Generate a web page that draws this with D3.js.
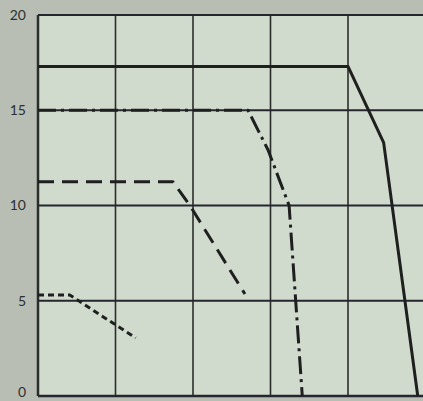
<!DOCTYPE html>
<html><head><meta charset="utf-8">
<script src="https://cdn.jsdelivr.net/npm/d3@7"></script>
<style>
html,body{margin:0;padding:0;background:#b9beb5;}
svg{display:block;}
</style></head>
<body>
<svg id="c" width="423" height="401"></svg>
<script>
const yTicks = [0, 5, 10, 15, 20];
const xGrid = [0, 1, 2, 3, 4, 5];
const solidX = [0, 4.0, 4.46, 4.9];
const solidY = [17.3, 17.3, 13.3, 0];
const dashDotX = [0, 2.71, 2.97, 3.24, 3.41];
const dashDotY = [15.0, 15.0, 12.9, 10.0, 0];
const dashedX = [0, 1.74, 1.96, 2.67];
const dashedY = [11.25, 11.25, 10.0, 5.35];
const dottedX = [0, 0.41, 1.26];
const dottedY = [5.3, 5.3, 3.05];

const svg = d3.select("#c");
const W = 423, H = 401;
const x = d3.scaleLinear().domain([0, 5]).range([38, 425.5]);
const y = d3.scaleLinear().domain([0, 20]).range([396, 15]);

svg.append("rect").attr("width", W).attr("height", H).attr("fill", "#b9beb5");
svg.append("rect").attr("x", x(0)).attr("y", y(20)).attr("width", x(5) - x(0)).attr("height", y(0) - y(20)).attr("fill", "#d0dbcd");

// vertical grid
svg.append("g").selectAll("line").data(xGrid).join("line")
  .attr("x1", d => x(d)).attr("x2", d => x(d))
  .attr("y1", y(20)).attr("y2", y(0))
  .attr("stroke", "#2b2d2b").attr("stroke-width", d => d === 0 ? 2.5 : 1.6);

// horizontal grid
svg.append("g").selectAll("line").data(yTicks).join("line")
  .attr("x1", x(0)).attr("x2", W)
  .attr("y1", d => y(d)).attr("y2", d => y(d))
  .attr("stroke", "#25262e").attr("stroke-width", d => d === 0 ? 2.5 : 2.2);

// axis labels via d3 axis
const ax = svg.append("g").attr("transform", `translate(${x(0)},0)`)
  .call(d3.axisLeft(y).tickValues(yTicks).tickSize(0).tickPadding(12).tickFormat(d3.format("d")));
ax.select(".domain").remove();
ax.selectAll("text").attr("font-family", "Lato, 'DejaVu Sans', sans-serif")
  .attr("font-size", 14).attr("fill", "#2c3032");
ax.selectAll(".tick").filter(d => d === 0).select("text").attr("dy", "0.05em");

const line = d3.line().x(d => x(d[0])).y(d => y(d[1]));
function draw(xs, ys, dash, w) {
  svg.append("path").datum(xs.map((v, i) => [v, ys[i]]))
    .attr("d", line).attr("fill", "none").attr("stroke", "#1e1f1f")
    .attr("stroke-width", w).attr("stroke-dasharray", dash)
    .attr("stroke-linejoin", "round");
}
draw(solidX, solidY, null, 3);
draw(dashDotX, dashDotY, "18 5 3 5", 3);
draw(dashedX, dashedY, "16 8", 3);
draw(dottedX, dottedY, "6 4", 3);
</script>
</body></html>
